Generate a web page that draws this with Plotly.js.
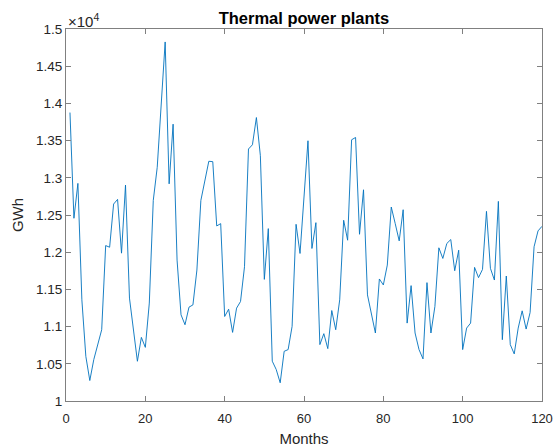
<!DOCTYPE html>
<html>
<head>
<meta charset="utf-8">
<script src="https://cdn.plot.ly/plotly-3.0.1.min.js"></script>
<style>
html,body{margin:0;padding:0;background:#fff;}
#chart{width:555px;height:448px;}
</style>
</head>
<body>
<div id="chart"></div>
<script>
// Monthly thermal power generation (GWh), months 1..120
const generation = [
  13877, 12456, 12925, 11360, 10600, 10275, 10556, 10757, 10958, 12089,
  12067, 12647, 12710, 11987, 12902, 11383, 10958, 10534, 10855, 10721,
  11316, 12696, 13141, 13988, 14826, 12919, 13721, 11894, 11159, 11025,
  11261, 11292, 11760, 12696, 12986, 13222, 13217, 12353, 12384, 11136,
  11234, 10922, 11248, 11337, 11805, 13387, 13444, 13810, 13297, 11635,
  12317, 10535, 10423, 10245, 10668, 10691, 11003, 12375, 11983, 12740,
  13498, 12050, 12397, 10758, 10905, 10704, 11216, 10958, 11359, 12429,
  12161, 13511, 13542, 12241, 12839, 11426, 11159, 10914, 11640, 11560,
  11827, 12607, 12384, 12152, 12571, 11047, 11551, 10914, 10691, 10566,
  11591, 10914, 11270, 12059, 11916, 12117, 12170, 11751, 12027, 10691,
  10980, 11047, 11796, 11658, 11769, 12549, 11783, 11626, 12683, 10824,
  11680, 10758, 10633, 10980, 11212, 10967, 11190, 12073, 12286, 12348
];
const yTickVals = [10000, 10500, 11000, 11500, 12000, 12500, 13000, 13500, 14000, 14500, 15000];
const yTickText = ["1", "1.05", "1.1", "1.15", "1.2", "1.25", "1.3", "1.35", "1.4", "1.45", "1.5"];
const xTickVals = [0, 20, 40, 60, 80, 100, 120];

const axisColor = "#808080";
const textColor = "#262626";
const fontFamily = "Liberation Sans, Arial, Helvetica, sans-serif";

const trace = {
  type: "scatter",
  mode: "lines",
  x0: 1,
  dx: 1,
  y: generation,
  line: {color: "#0072BD", width: 0.9},
  hoverinfo: "skip"
};

const layout = {
  width: 555,
  height: 448,
  margin: {l: 66, r: 13, t: 28.5, b: 46.5},
  paper_bgcolor: "#ffffff",
  plot_bgcolor: "#ffffff",
  showlegend: false,
  font: {family: fontFamily, color: textColor, size: 13},
  title: {
    text: "<b>Thermal power plants</b>",
    font: {family: fontFamily, size: 16.5, color: "#000000"},
    x: 0.5477, xanchor: "center",
    y: 0.96, yanchor: "middle"
  },
  xaxis: {
    range: [0, 120],
    tickvals: xTickVals,
    ticks: "inside",
    ticklen: 5,
    tickcolor: axisColor,
    showline: true,
    linecolor: axisColor,
    linewidth: 1,
    mirror: "ticks",
    showgrid: false,
    zeroline: false,
    ticklabelstandoff: 5,
    tickfont: {size: 13, color: textColor},
    title: {text: "Months", font: {size: 15, color: textColor}, standoff: 8}
  },
  yaxis: {
    range: [10000, 15000],
    tickvals: yTickVals,
    ticktext: yTickText,
    ticks: "inside",
    ticklen: 5,
    tickcolor: axisColor,
    showline: true,
    linecolor: axisColor,
    linewidth: 1,
    mirror: "ticks",
    showgrid: false,
    zeroline: false,
    tickfont: {size: 13.5, color: textColor},
    title: {text: "GWh", font: {size: 15, color: textColor}, standoff: 8}
  },
  annotations: [{
    text: "×10<sup>4</sup>",
    xref: "paper", yref: "paper",
    x: 0, y: 1,
    xanchor: "left", yanchor: "bottom",
    showarrow: false,
    yshift: -3,
    font: {family: fontFamily, size: 15, color: textColor}
  }]
};

Plotly.newPlot("chart", [trace], layout, {staticPlot: true, displayModeBar: false});
</script>
</body>
</html>
